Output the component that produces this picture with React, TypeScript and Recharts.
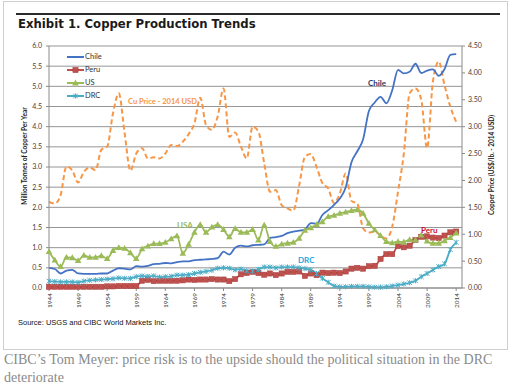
import { LineChart, Line, XAxis, YAxis, CartesianGrid, Legend } from 'recharts';

// production in million tonnes, price in 2014 USD per lb
const years = [
	1944, 1945, 1946, 1947, 1948, 1949, 1950, 1951, 1952, 1953,
	1954, 1955, 1956, 1957, 1958, 1959, 1960, 1961, 1962, 1963,
	1964, 1965, 1966, 1967, 1968, 1969, 1970, 1971, 1972, 1973,
	1974, 1975, 1976, 1977, 1978, 1979, 1980, 1981, 1982, 1983,
	1984, 1985, 1986, 1987, 1988, 1989, 1990, 1991, 1992, 1993,
	1994, 1995, 1996, 1997, 1998, 1999, 2000, 2001, 2002, 2003,
	2004, 2005, 2006, 2007, 2008, 2009, 2010, 2011, 2012, 2013, 2014,
];

const chile = [
	0.5, 0.47, 0.36, 0.43, 0.45, 0.36, 0.35, 0.35, 0.35, 0.36,
	0.36, 0.43, 0.49, 0.48, 0.46, 0.54, 0.53, 0.55, 0.59, 0.6,
	0.62, 0.61, 0.64, 0.66, 0.66, 0.69, 0.7, 0.71, 0.72, 0.74,
	0.9, 0.83, 1.0, 1.05, 1.03, 1.06, 1.07, 1.08, 1.24, 1.26,
	1.29, 1.36, 1.4, 1.42, 1.45, 1.61, 1.59, 1.81, 1.93, 2.06,
	2.22, 2.49, 3.12, 3.39, 3.69, 4.39, 4.6, 4.74, 4.58, 4.9,
	5.41, 5.32, 5.36, 5.56, 5.33, 5.39, 5.42, 5.26, 5.43, 5.78, 5.8,
];

const peru = [
	0.03, 0.03, 0.03, 0.03, 0.03, 0.03, 0.03, 0.03, 0.03, 0.03,
	0.04, 0.04, 0.05, 0.05, 0.05, 0.05, 0.18, 0.2, 0.17, 0.18,
	0.18, 0.18, 0.18, 0.19, 0.21, 0.2, 0.21, 0.21, 0.22, 0.21,
	0.21, 0.17, 0.22, 0.34, 0.37, 0.4, 0.37, 0.33, 0.36, 0.32,
	0.36, 0.4, 0.4, 0.41, 0.3, 0.36, 0.32, 0.38, 0.37, 0.38,
	0.37, 0.41, 0.48, 0.5, 0.48, 0.54, 0.55, 0.72, 0.84, 0.84,
	1.04, 1.01, 1.05, 1.19, 1.27, 1.28, 1.25, 1.24, 1.3, 1.38, 1.4,
];

const us = [
	0.9, 0.69, 0.53, 0.76, 0.75, 0.68, 0.81, 0.76, 0.76, 0.8,
	0.73, 0.93, 1.0, 0.98, 0.87, 0.73, 0.97, 1.04, 1.1, 1.1,
	1.13, 1.22, 1.29, 0.86, 1.08, 1.38, 1.57, 1.38, 1.51, 1.57,
	1.45, 1.27, 1.47, 1.38, 1.38, 1.45, 1.19, 1.56, 1.15, 1.03,
	1.09, 1.11, 1.13, 1.23, 1.43, 1.49, 1.57, 1.64, 1.77, 1.8,
	1.85, 1.88, 1.92, 1.94, 1.85, 1.6, 1.44, 1.3, 1.15, 1.12,
	1.15, 1.14, 1.2, 1.19, 1.31, 1.16, 1.11, 1.11, 1.17, 1.25, 1.36,
];

const drc = [
	0.17, 0.16, 0.15, 0.15, 0.15, 0.14, 0.17, 0.19, 0.2, 0.21,
	0.22, 0.23, 0.25, 0.24, 0.24, 0.28, 0.3, 0.29, 0.3, 0.27,
	0.28, 0.29, 0.32, 0.32, 0.33, 0.36, 0.39, 0.41, 0.44, 0.49,
	0.5, 0.49, 0.45, 0.47, 0.43, 0.42, 0.46, 0.52, 0.52, 0.5,
	0.52, 0.52, 0.52, 0.5, 0.48, 0.45, 0.36, 0.24, 0.14, 0.05,
	0.03, 0.03, 0.04, 0.04, 0.04, 0.03, 0.02, 0.02, 0.03, 0.05,
	0.07, 0.1, 0.13, 0.18, 0.28, 0.36, 0.45, 0.53, 0.6, 0.95, 1.13,
];

const price = [
	1.6, 1.57, 1.73, 2.26, 2.19, 1.96, 2.16, 2.24, 2.19, 2.57,
	2.63, 3.25, 3.62, 2.88, 2.18, 2.5, 2.6, 2.41, 2.43, 2.41,
	2.5, 2.66, 2.64, 2.72, 2.86, 3.06, 3.54, 3.03, 2.94, 3.19,
	3.71, 2.81, 2.89, 2.63, 2.41, 3.0, 2.91, 2.32, 1.79, 1.82,
	1.54, 1.48, 1.44, 1.9, 2.44, 2.49, 2.25, 1.95, 1.85, 1.58,
	1.76, 2.13, 1.62, 1.57, 1.11, 1.03, 1.05, 0.97, 0.92, 1.14,
	1.79, 2.5, 3.62, 3.71, 3.5, 2.6, 3.84, 4.21, 3.77, 3.37, 3.09,
];

const legendOrder = ['Chile', 'Peru', 'US', 'DRC'];
const xTicks = [1944, 1949, 1954, 1959, 1964, 1969, 1974, 1979, 1984, 1989, 1994, 1999, 2004, 2009, 2014];
const leftTicks = [0, 0.5, 1, 1.5, 2, 2.5, 3, 3.5, 4, 4.5, 5, 5.5, 6];
const rightTicks = [0, 0.5, 1, 1.5, 2, 2.5, 3, 3.5, 4, 4.5];

const data = years.map((year, i) => ({
	year,
	chile: chile[i],
	peru: peru[i],
	us: us[i],
	drc: drc[i],
	price: price[i],
}));

const FONT = 'Lato, "Open Sans", sans-serif';
const BLUE = '#4472C4';
const RED = '#C0504D';
const GREEN = '#9BBB59';
const CYAN = '#4BACC6';
const ORANGE = '#F79646';

const square = (cx: number, cy: number, k?: any) => (
	<rect key={k} x={cx - 2.6} y={cy - 2.6} width={5.2} height={5.2} fill={RED} stroke='#A33D3A' strokeWidth={0.5} />
);
const triangle = (cx: number, cy: number, k?: any) => (
	<polygon key={k} points={`${cx},${cy - 3.4} ${cx + 3.3},${cy + 2.4} ${cx - 3.3},${cy + 2.4}`} fill={GREEN} />
);
const star = (cx: number, cy: number, k?: any) => (
	<g key={k} stroke={CYAN} strokeWidth={1}>
		<line x1={cx - 2.3} y1={cy - 2.3} x2={cx + 2.3} y2={cy + 2.3} />
		<line x1={cx - 2.3} y1={cy + 2.3} x2={cx + 2.3} y2={cy - 2.3} />
		<line x1={cx} y1={cy - 2.6} x2={cx} y2={cy + 2.6} />
	</g>
);

const markerFor: Record<string, (cx: number, cy: number, k?: any) => any> = {
	Peru: square,
	US: triangle,
	DRC: star,
};

const dotOf = (name: string) => (props: any) => {
	const { cx, cy, index } = props;
	if (cx == null || cy == null) return <g key={index} />;
	return markerFor[name](cx, cy, index);
};

const XTick = (props: any) => {
	const { x, y, payload } = props;
	return (
		<text
			x={x}
			y={y}
			transform={`rotate(-90 ${x} ${y})`}
			textAnchor='end'
			dominantBaseline='central'
			fontSize={6.5}
			fontFamily={FONT}
			fill='#404040'>
			{payload.value}
		</text>
	);
};

const renderLegend = (props: any) => {
	const items = (props.payload || [])
		.filter((p: any) => p.type !== 'none')
		.sort((a: any, b: any) => legendOrder.indexOf(a.value) - legendOrder.indexOf(b.value));
	return (
		<div style={{ fontFamily: FONT, fontSize: 7.5, color: '#333' }}>
			{items.map((item: any) => (
				<div key={item.value} style={{ display: 'flex', alignItems: 'center', height: 13 }}>
					<svg width={17} height={8} style={{ marginRight: 1 }}>
						<line x1={0} y1={4} x2={17} y2={4} stroke={item.color} strokeWidth={2} />
						{markerFor[item.value] ? markerFor[item.value](8.5, 4) : null}
					</svg>
					<span>{item.value}</span>
				</div>
			))}
		</div>
	);
};

const note = (text: string, left: number, top: number, color: string, size = 8) => (
	<div
		style={{
			position: 'absolute',
			left,
			top,
			color,
			fontFamily: FONT,
			fontWeight: 700,
			fontSize: size,
			lineHeight: '9px',
			whiteSpace: 'nowrap',
		}}>
		{text}
	</div>
);

export default function App() {
	return (
		<div style={{ position: 'absolute', left: 0, top: 0, width: 523, height: 389, background: '#fff', overflow: 'hidden' }}>
			<div style={{ position: 'absolute', left: 3, top: 1, width: 503, height: 347, border: '1px solid #cfcfcf' }} />
			<div style={{ position: 'absolute', left: 16, top: 13, width: 484, height: 2, background: '#2a2a2a' }} />
			<div
				style={{
					position: 'absolute',
					left: 18,
					top: 17,
					fontFamily: '"DejaVu Sans", Verdana, sans-serif',
					fontWeight: 700,
					fontSize: 11.7,
					lineHeight: '14px',
					color: '#1a1a1a',
					whiteSpace: 'nowrap',
				}}>
				Exhibit 1. Copper Production Trends
			</div>

			<div style={{ position: 'absolute', left: 0, top: 0 }}>
				<LineChart width={523} height={330} data={data} margin={{ top: 46, right: 0, bottom: 0, left: 0 }}>
					<CartesianGrid yAxisId='left' vertical={false} stroke='#959595' strokeWidth={1} />
					<XAxis
						dataKey='year'
						type='number'
						domain={[1944, 2015]}
						ticks={xTicks}
						interval={0}
						height={42}
						tickSize={3}
						tickMargin={2}
						stroke='#8a8a8a'
						tick={<XTick />}
					/>
					<YAxis
						yAxisId='left'
						domain={[0, 6]}
						ticks={leftTicks}
						interval={0}
						width={49}
						tickSize={3}
						tickMargin={4}
						stroke='#8a8a8a'
						tickFormatter={(v: number) => v.toFixed(1)}
						tick={{ fontSize: 7, fill: '#404040', fontFamily: FONT }}
					/>
					<YAxis
						yAxisId='right'
						orientation='right'
						domain={[0, 4.5]}
						ticks={rightTicks}
						interval={0}
						width={61}
						tickSize={3}
						tickMargin={3}
						stroke='#8a8a8a'
						tickFormatter={(v: number) => v.toFixed(2)}
						tick={{ fontSize: 7, fill: '#404040', fontFamily: FONT }}
					/>
					<Legend
						layout='vertical'
						align='center'
						verticalAlign='middle'
						content={renderLegend}
						wrapperStyle={{ left: 67, top: 50, width: 60, height: 56 }}
					/>
					<Line
						yAxisId='right'
						dataKey='price'
						name='Cu Price - 2014 USD'
						legendType='none'
						type='monotone'
						stroke={ORANGE}
						strokeWidth={2}
						strokeDasharray='5 3'
						dot={false}
						isAnimationActive={false}
					/>
					<Line
						yAxisId='left'
						dataKey='chile'
						name='Chile'
						type='monotone'
						stroke={BLUE}
						strokeWidth={1.8}
						dot={false}
						isAnimationActive={false}
					/>
					<Line
						yAxisId='left'
						dataKey='peru'
						name='Peru'
						type='monotone'
						stroke={RED}
						strokeWidth={1.8}
						dot={dotOf('Peru')}
						isAnimationActive={false}
					/>
					<Line
						yAxisId='left'
						dataKey='us'
						name='US'
						type='monotone'
						stroke={GREEN}
						strokeWidth={1.8}
						dot={dotOf('US')}
						isAnimationActive={false}
					/>
					<Line
						yAxisId='left'
						dataKey='drc'
						name='DRC'
						type='monotone'
						stroke={CYAN}
						strokeWidth={1.8}
						dot={dotOf('DRC')}
						isAnimationActive={false}
					/>
				</LineChart>
			</div>

			{note('Cu Price - 2014 USD', 128, 97, ORANGE, 7.5)}
			{note('Chile', 368, 79, '#1F3864')}
			{note('USA', 177, 220.5, GREEN)}
			{note('Peru', 421, 225.5, '#C8102E')}
			{note('DRC', 298, 256, '#1CA6DE')}

			<div
				style={{
					position: 'absolute',
					left: 23.5,
					top: 156,
					transform: 'translate(-50%, -50%) rotate(-90deg)',
					fontFamily: FONT,
					fontWeight: 700,
					fontSize: 6.5,
					color: '#1a1a1a',
					whiteSpace: 'nowrap',
				}}>
				Million Tonnes of Copper Per Year
			</div>
			<div
				style={{
					position: 'absolute',
					left: 491,
					top: 165,
					transform: 'translate(-50%, -50%) rotate(-90deg)',
					fontFamily: FONT,
					fontWeight: 700,
					fontSize: 6.5,
					color: '#1a1a1a',
					whiteSpace: 'nowrap',
				}}>
				Copper Price (US$/lb. - 2014 USD)
			</div>

			<div
				style={{
					position: 'absolute',
					left: 18,
					top: 318,
					fontFamily: '"Liberation Sans", Arial, sans-serif',
					fontSize: 7.5,
					lineHeight: '10px',
					color: '#111',
					whiteSpace: 'nowrap',
				}}>
				Source: USGS and CIBC World Markets Inc.
			</div>

			<div
				style={{
					position: 'absolute',
					left: 4,
					top: 351,
					fontFamily: '"Liberation Serif", serif',
					fontSize: 14,
					lineHeight: '18px',
					color: '#8a8a8a',
					whiteSpace: 'nowrap',
				}}>
				CIBC&rsquo;s Tom Meyer: price risk is to the upside should the political situation in the DRC
				<br />
				deteriorate
			</div>
		</div>
	);
}
